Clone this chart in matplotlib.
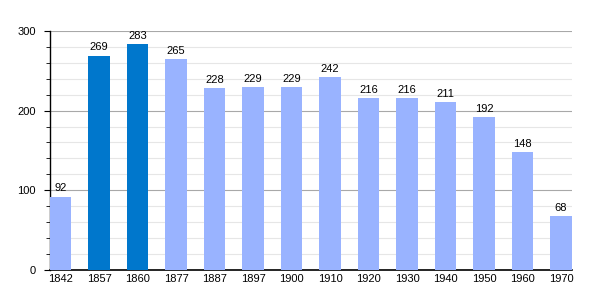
import matplotlib
matplotlib.use("Agg")
import matplotlib.pyplot as plt
import numpy as np

years = ["1842", "1857", "1860", "1877", "1887", "1897", "1900", "1910",
         "1920", "1930", "1940", "1950", "1960", "1970"]
population = [92, 269, 283, 265, 228, 229, 229, 242, 216, 216, 211, 192, 148, 68]
highlight = ["1857", "1860"]

light = "#99b3ff"
dark = "#0077cc"
colors = [dark if y in highlight else light for y in years]

plt.rcParams["font.family"] = ["Liberation Sans", "DejaVu Sans"]

fig = plt.figure(figsize=(6, 3), dpi=100)
ax = fig.add_axes([0.083, 0.1, 0.87, 0.797])

w = 0.56
x = np.arange(len(years))
bars = ax.bar(x, population, width=w, color=colors, zorder=3)

for xi, v in zip(x, population):
    ax.text(xi, v + 4, str(v), ha="center", va="bottom", fontsize=8)

ax.set_xlim(-w / 2, len(years) - 1 + w / 2)
ax.set_ylim(0, 300)
ax.set_xticks(x)
ax.set_xticklabels(years, fontsize=8)
ax.set_yticks([0, 100, 200, 300])
ax.set_yticklabels(["0", "100", "200", "300"], fontsize=8)
ax.set_yticks(np.arange(0, 301, 20), minor=True)
ax.tick_params(axis="x", length=0, pad=3)
ax.tick_params(axis="y", which="major", length=4, width=0.8, pad=6)
ax.tick_params(axis="y", which="minor", length=3, width=0.6)

ax.grid(axis="y", which="minor", color="#e6e6e6", linewidth=0.8, zorder=0)
ax.grid(axis="y", which="major", color="#a8a8a8", linewidth=0.8, zorder=1)

for s in ["top", "right"]:
    ax.spines[s].set_visible(False)
ax.spines["left"].set_linewidth(1.0)
ax.spines["bottom"].set_linewidth(1.2)

fig.savefig("out.png", dpi=100)
